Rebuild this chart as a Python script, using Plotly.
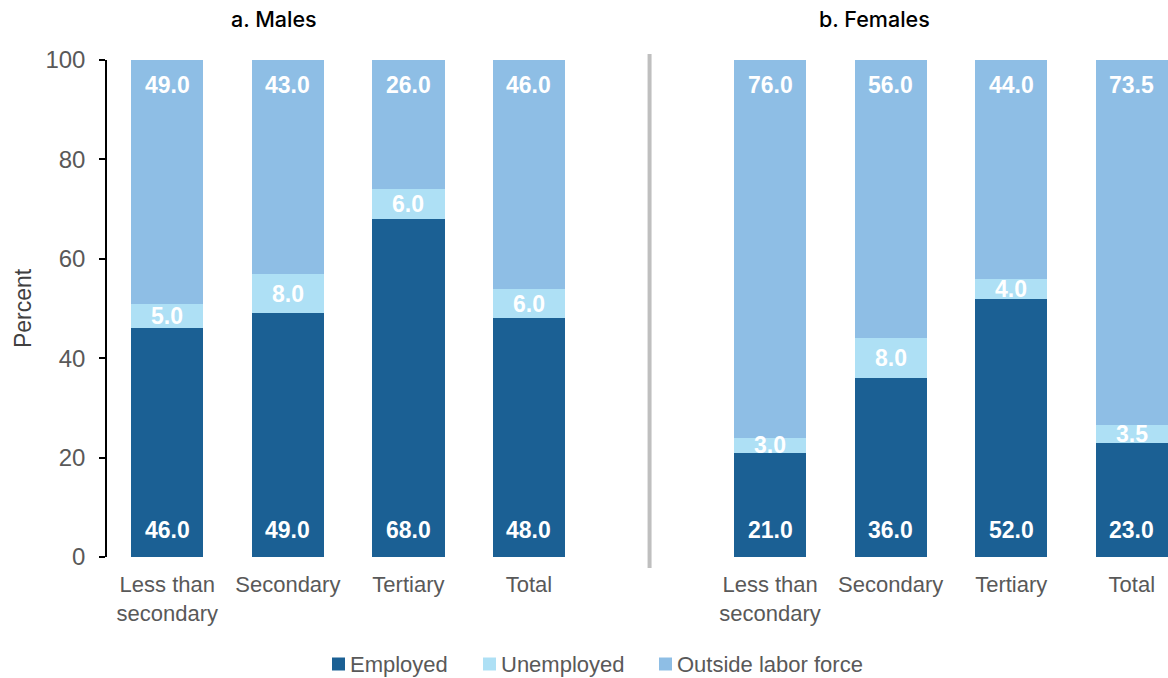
import plotly.graph_objects as go

categories = ["Less than<br>secondary", "Secondary", "Tertiary", "Total"]
panels = ["a. Males", "b. Females"]
series_names = ["Employed", "Unemployed", "Outside labor force"]

male_employed = [46.0, 49.0, 68.0, 48.0]
male_unemployed = [5.0, 8.0, 6.0, 6.0]
male_outside = [49.0, 43.0, 26.0, 46.0]

female_employed = [21.0, 36.0, 52.0, 23.0]
female_unemployed = [3.0, 8.0, 4.0, 3.5]
female_outside = [76.0, 56.0, 44.0, 73.5]

y_ticks = [0, 20, 40, 60, 80, 100]

COLORS = ["#1B6094", "#AEE0F5", "#8EBEE5"]
FONT = "Liberation Sans, Arial, sans-serif"
GREY = "#595959"

W, H = 1168, 678
ML, MR, MT, MB = 107, 0, 60, 121
PW, PH = W - ML - MR, H - MT - MB


def px_x(p):
    return (p - ML) / PW


def px_y(p):
    return (H - MB - p) / PH


x_m = list(range(len(categories)))
x_f = [i + len(categories) + 1 for i in range(len(categories))]
xs = x_m + x_f
emp = male_employed + female_employed
unemp = male_unemployed + female_unemployed
out = male_outside + female_outside

fig = go.Figure()
for name, vals, col in zip(series_names, [emp, unemp, out], COLORS):
    fig.add_trace(go.Bar(x=xs, y=vals, name=name, marker=dict(color=col, line=dict(width=0)),
                         width=0.6, hoverinfo="y+name", showlegend=False))

ann = []
shapes = []
lab_font = dict(family=FONT, size=23, color="white")
for x, e, u, o in zip(xs, emp, unemp, out):
    ann.append(dict(x=x, y=0, xref="x", yref="y", text=f"<b>{e:.1f}</b>", showarrow=False,
                    yshift=27, font=lab_font, yanchor="middle"))
    ann.append(dict(x=x, y=e + u / 2, xref="x", yref="y", text=f"<b>{u:.1f}</b>", showarrow=False,
                    font=lab_font, yanchor="middle"))
    ann.append(dict(x=x, y=e + u + o, xref="x", yref="y", text=f"<b>{o:.1f}</b>", showarrow=False,
                    yshift=-25, font=lab_font, yanchor="middle"))

title_font = dict(family="Inter, Liberation Sans, sans-serif", size=21.5, color="black", weight=500)
ann.append(dict(x=px_x(274), y=px_y(19), xref="paper", yref="paper", text=panels[0], showarrow=False,
                font=title_font, xanchor="center", yanchor="middle"))
ann.append(dict(x=px_x(874), y=px_y(19), xref="paper", yref="paper", text=panels[1], showarrow=False,
                font=title_font, xanchor="center", yanchor="middle"))

# manual legend (bottom)
leg_sq_x = [332, 483, 659]
leg_y = 664
for name, col, sx in zip(series_names, COLORS, leg_sq_x):
    shapes.append(dict(type="rect", xref="paper", yref="paper", x0=px_x(sx), x1=px_x(sx + 13),
                       y0=px_y(leg_y - 6.5), y1=px_y(leg_y + 6.5), fillcolor=col, line=dict(width=0)))
    ann.append(dict(x=px_x(sx + 16), y=px_y(leg_y), xref="paper", yref="paper", text=name,
                    showarrow=False, xanchor="left", yanchor="middle",
                    font=dict(family=FONT, size=22, color=GREY)))

# separator between panels
shapes.append(dict(type="line", xref="x", yref="paper", x0=len(categories), x1=len(categories),
                   y0=px_y(54), y1=px_y(568), line=dict(color="#BFBFBF", width=4)))

fig.update_layout(
    barmode="stack",
    width=W, height=H,
    margin=dict(l=ML, r=MR, t=MT, b=MB),
    plot_bgcolor="white", paper_bgcolor="white",
    font=dict(family=FONT, size=22, color=GREY),
    annotations=ann,
    shapes=shapes,
    showlegend=False,
)
fig.update_xaxes(range=[-0.5, 8.3], tickvals=xs, ticktext=categories + categories,
                 showline=False, ticks="", showgrid=False, zeroline=False,
                 ticklabelstandoff=12, automargin=False,
                 tickfont=dict(family=FONT, size=22, color=GREY))
fig.update_yaxes(range=[0, 100], tickvals=y_ticks, showline=True, linecolor="black", linewidth=1.5,
                 ticks="outside", ticklen=6, tickcolor="black", tickwidth=1.5, showgrid=False,
                 zeroline=False, ticklabelstandoff=9, automargin=False,
                 tickfont=dict(family=FONT, size=24, color=GREY),
                 title=dict(text="Percent", font=dict(family=FONT, size=23, color="#404040"), standoff=7))

fig.write_html("out.html", config={"displayModeBar": False},
               post_script="document.body.style.margin='0';document.body.style.overflow='hidden';")
